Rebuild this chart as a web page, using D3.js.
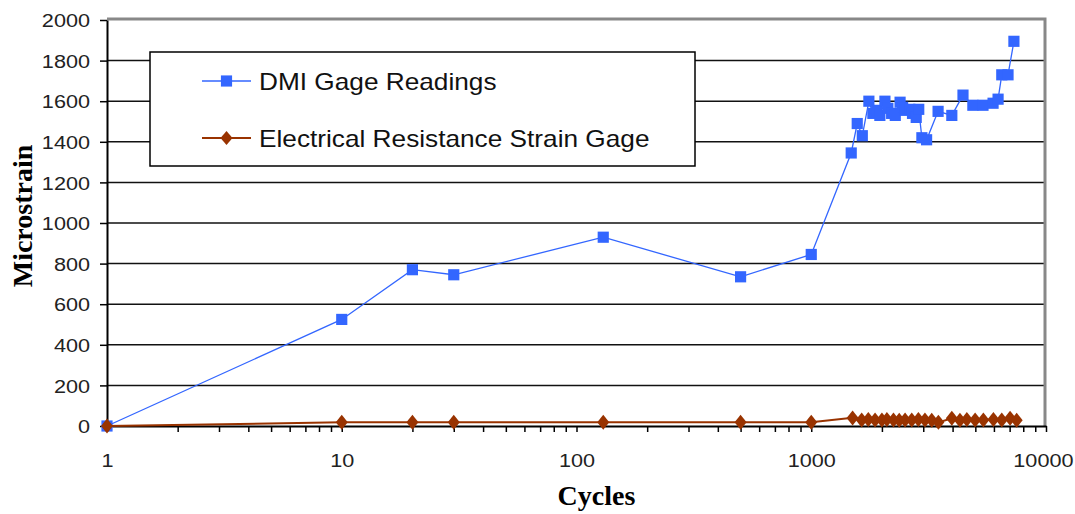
<!DOCTYPE html>
<html>
<head>
<meta charset="utf-8">
<script src="https://cdn.jsdelivr.net/npm/d3@7"></script>
<style>
  html, body { margin: 0; padding: 0; background: #fff; }
  svg { display: block; }
</style>
</head>
<body>
<svg id="chart" width="1075" height="514"></svg>
<script>
// DMI gage readings (cycles, microstrain)
const dmiCycles = [1, 10, 20, 30, 130, 500, 1000, 1480, 1570, 1650, 1760, 1830, 1900, 1960,
  2060, 2120, 2200, 2280, 2390, 2450, 2510, 2630, 2700, 2800, 2870, 2960, 3100, 3470, 3970,
  4430, 4880, 5390, 5950, 6250, 6480, 6890, 7300];
const dmiStrain = [0, 525, 770, 745, 930, 735, 845, 1345, 1490, 1430, 1600, 1540, 1555, 1530,
  1600, 1565, 1540, 1530, 1595, 1570, 1555, 1560, 1540, 1520, 1560, 1420, 1410, 1550, 1530,
  1630, 1580, 1580, 1590, 1610, 1730, 1730, 1895];

// Electrical resistance strain gage (cycles, microstrain)
const ercCycles = [1, 10, 20, 30, 130, 500, 1000, 1500, 1640, 1750, 1870, 2000, 2100, 2240,
  2370, 2510, 2680, 2860, 3050, 3260, 3480, 3970, 4300, 4600, 4990, 5410, 5970, 6480, 7030, 7500];
const ercStrain = [0, 18, 18, 18, 18, 18, 18, 40, 30, 32, 30, 30, 32, 30,
  28, 30, 30, 32, 30, 28, 18, 38, 28, 32, 30, 30, 32, 30, 38, 28];

const seriesNames = ["DMI Gage Readings", "Electrical Resistance Strain Gage"];
const yTicks = [0, 200, 400, 600, 800, 1000, 1200, 1400, 1600, 1800, 2000];
const xMajorTicks = [1, 10, 100, 1000, 10000];
const xAxisTitle = "Cycles";
const yAxisTitle = "Microstrain";

const blue = "#3366ff";
const brown = "#993300";
const textStretch = 1.14;

const svg = d3.select("#chart");
const plotLeft = 107, plotRight = 1046, plotTop = 20, plotBottom = 426;

const x = d3.scaleLog().domain([1, 10000]).range([plotLeft, plotRight]);
const y = d3.scaleLinear().domain([0, 2000]).range([plotBottom, plotTop]);

// horizontal gridlines
svg.append("g").selectAll("line")
  .data(yTicks.filter(v => v > 0 && v < 2000))
  .join("line")
  .attr("x1", plotLeft).attr("x2", plotRight)
  .attr("y1", d => y(d)).attr("y2", d => y(d))
  .attr("stroke", "#111").attr("stroke-width", 1.5);

// grey frame on top and right of the plot area
svg.append("path")
  .attr("d", `M${plotLeft},${y(2000) - 1}H${plotRight - 1}V${plotBottom}`)
  .attr("fill", "none").attr("stroke", "#888").attr("stroke-width", 3);

// y axis
const yAxis = svg.append("g")
  .attr("transform", `translate(${plotLeft},0)`)
  .call(d3.axisLeft(y).tickValues(yTicks).tickSize(7).tickSizeOuter(0).tickFormat(d3.format("d")));
yAxis.select(".domain").attr("stroke", "#000").attr("stroke-width", 2);
yAxis.selectAll(".tick line").attr("stroke", "#000").attr("stroke-width", 1.5);
yAxis.selectAll(".tick text")
  .attr("x", -17 / textStretch).attr("dy", "0.35em")
  .attr("transform", `scale(${textStretch},1)`)
  .attr("font-family", "'Liberation Sans', Arial, sans-serif")
  .attr("font-size", 19).attr("fill", "#222");

// x axis: decades labelled, minor ticks at 2..9
const xTickVals = [];
xMajorTicks.forEach((d, i) => {
  xTickVals.push(d);
  if (i < xMajorTicks.length - 1) for (let k = 2; k <= 9; k++) xTickVals.push(d * k);
});
const xAxis = svg.append("g")
  .attr("transform", `translate(0,${plotBottom})`)
  .call(d3.axisBottom(x).tickValues(xTickVals).tickSize(6).tickSizeOuter(0)
    .tickFormat(d => xMajorTicks.includes(d) ? String(d) : ""));
xAxis.select(".domain").attr("stroke", "#000").attr("stroke-width", 2);
xAxis.selectAll(".tick line").attr("stroke", "#000").attr("stroke-width", 1.5);
xAxis.selectAll(".tick text")
  .attr("y", 41).attr("dy", 0)
  .attr("transform", `scale(${textStretch},1)`)
  .attr("font-family", "'Liberation Sans', Arial, sans-serif")
  .attr("font-size", 19).attr("fill", "#222");
// keep the last decade label inside the frame
xAxis.selectAll(".tick text")
  .filter(d => d === xMajorTicks[xMajorTicks.length - 1])
  .attr("text-anchor", "end")
  .attr("x", (1073 - plotRight) / textStretch);

// axis titles
svg.append("text")
  .attr("x", (plotLeft + plotRight) / 2 + 20).attr("y", 505)
  .attr("text-anchor", "middle")
  .attr("font-family", "'Liberation Serif', 'Times New Roman', serif")
  .attr("font-weight", "bold").attr("font-size", 28)
  .text(xAxisTitle);
svg.append("text")
  .attr("transform", `translate(32,216) rotate(-90)`)
  .attr("text-anchor", "middle")
  .attr("font-family", "'Liberation Serif', 'Times New Roman', serif")
  .attr("font-weight", "bold").attr("font-size", 28)
  .text(yAxisTitle);

// legend
const legend = svg.append("g");
legend.append("rect")
  .attr("x", 150).attr("y", 52).attr("width", 545).attr("height", 114)
  .attr("fill", "#fff").attr("stroke", "#000").attr("stroke-width", 1.5);

const squareSym = d3.symbol().type(d3.symbolSquare).size(125);
const diamondPath = (w, h) => `M0,${-h / 2}L${w / 2},0L0,${h / 2}L${-w / 2},0Z`;

const legendRows = [
  { name: seriesNames[0], color: blue, width: 1.5, marker: squareSym(), cy: 81 },
  { name: seriesNames[1], color: brown, width: 2, marker: diamondPath(12, 14), cy: 138 }
];
legendRows.forEach(r => {
  legend.append("line")
    .attr("x1", 202).attr("x2", 251).attr("y1", r.cy).attr("y2", r.cy)
    .attr("stroke", r.color).attr("stroke-width", r.width);
  legend.append("path")
    .attr("d", r.marker).attr("transform", `translate(226.5,${r.cy})`)
    .attr("fill", r.color);
  legend.append("text")
    .attr("transform", `translate(259,${r.cy + 8.5}) scale(1.14,1)`)
    .attr("font-family", "'Liberation Sans', Arial, sans-serif")
    .attr("font-size", 23).attr("fill", "#111")
    .text(r.name);
});

const dmi = dmiCycles.map((c, i) => ({ c, v: dmiStrain[i] }));
const erc = ercCycles.map((c, i) => ({ c, v: ercStrain[i] }));
const line = d3.line().x(d => x(d.c)).y(d => y(d.v));

// DMI series
svg.append("path").datum(dmi)
  .attr("d", line).attr("fill", "none")
  .attr("stroke", blue).attr("stroke-width", 1.3);
svg.append("g").selectAll("path")
  .data(dmi).join("path")
  .attr("d", squareSym())
  .attr("transform", d => `translate(${x(d.c)},${y(d.v)})`)
  .attr("fill", blue);

// strain gage series
svg.append("path").datum(erc)
  .attr("d", line).attr("fill", "none")
  .attr("stroke", brown).attr("stroke-width", 2);
svg.append("g").selectAll("path")
  .data(erc).join("path")
  .attr("d", diamondPath(12, 15))
  .attr("transform", d => `translate(${x(d.c)},${y(d.v)})`)
  .attr("fill", brown);
</script>
</body>
</html>
